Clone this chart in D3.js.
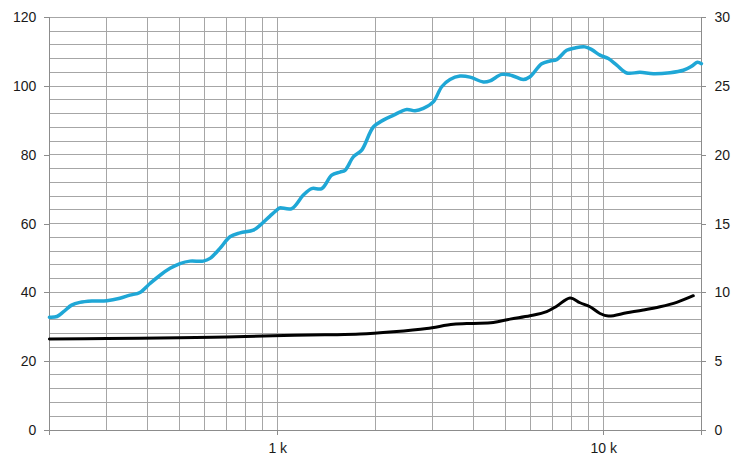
<!DOCTYPE html>
<html><head><meta charset="utf-8">
<script src="https://cdn.jsdelivr.net/npm/d3@7"></script>
<style>
html,body{margin:0;padding:0;background:#fff;}
svg{display:block;font-family:"Liberation Sans",Arial,sans-serif;}
</style></head>
<body><svg id="c" width="746" height="461"></svg>
<script>
// Blue curve (left axis, 0-120)
const blueFreq = [200,211,221,234,248,270,300,329,353,379,407,437,469,503,540,593,622,667,716,769,844,885,950,1007,1019,1108,1202,1275,1369,1469,1558,1614,1711,1816,1971,2114,2268,2495,2646,2806,3011,3195,3387,3635,3901,4286,4493,4880,5238,5686,5961,6474,6864,7195,7724,8192,8790,9216,9772,10364,10998,11804,12964,14244,16024,17603,18676,19428,20000];
const blueVals = [32.8,33,34.4,36.3,37.1,37.5,37.6,38.3,39.2,40,42.6,45,47,48.4,49.1,49.1,49.9,52.8,56.2,57.3,58.1,59.5,62.2,64.3,64.6,64.4,68.3,70.2,70.2,74.1,75,75.5,79.4,81.4,88.1,90.1,91.5,93.2,92.8,93.5,95.4,99.8,101.9,102.9,102.6,101.2,101.5,103.4,103.1,101.9,102.7,106.5,107.3,107.7,110.4,111.1,111.4,110.6,109,108,106.1,103.8,104,103.6,103.9,104.6,105.8,106.9,106.5];
// Black curve (right axis, 0-30)
const blackFreq = [200,300,500,700,970,1400,1794,2268,2874,3468,3994,4598,5177,5961,6706,7195,7907,8487,9106,9772,10364,11804,13268,14930,16800,18890];
const blackVals = [6.62,6.65,6.7,6.76,6.85,6.92,6.97,7.14,7.38,7.68,7.75,7.82,8.06,8.3,8.6,9.0,9.6,9.25,8.96,8.47,8.28,8.52,8.72,8.96,9.28,9.76];
const leftTicks = [0,20,40,60,80,100,120];
const rightTicks = [0,5,10,15,20,25,30];
const xTickVals = [1000,10000];
const xTickLabels = ["1 k","10 k"];
const xGridVals = [200,300,400,500,600,700,800,900,1000,2000,3000,4000,5000,6000,7000,8000,9000,10000,20000];
const yGridVals = d3.range(0,121,4);

const L=49.4,R=701.4,T=17.3,B=430;
const svg=d3.select("#c");
const x=d3.scaleLog().domain([200,20000]).range([L,R]);
const yL=d3.scaleLinear().domain([0,120]).range([B,T]);
const yR=d3.scaleLinear().domain([0,30]).range([B,T]);

const grid=svg.append("g").attr("stroke","#a6a6a6").attr("stroke-width",1).attr("shape-rendering","crispEdges");
grid.selectAll("line.h").data(yGridVals).enter().append("line")
 .attr("x1",L).attr("x2",R).attr("y1",d=>yL(d)).attr("y2",d=>yL(d));
grid.selectAll("line.v").data(xGridVals).enter().append("line")
 .attr("y1",T).attr("y2",B).attr("x1",d=>x(d)).attr("x2",d=>x(d));

const axL=svg.append("g").attr("transform",`translate(${L},0)`)
 .call(d3.axisLeft(yL).tickValues(leftTicks).tickSize(5).tickPadding(8));
const axR=svg.append("g").attr("transform",`translate(${R},0)`)
 .call(d3.axisRight(yR).tickValues(rightTicks).tickSize(5).tickPadding(8));
const axB=svg.append("g").attr("transform",`translate(0,${B})`)
 .call(d3.axisBottom(x).tickValues(xTickVals).tickFormat((d,i)=>xTickLabels[i]).tickSize(5).tickPadding(8));
[axL,axR,axB].forEach(a=>{
  a.select(".domain").attr("stroke","#8c8c8c").attr("shape-rendering","crispEdges");
  a.selectAll(".tick line").attr("stroke","#8c8c8c").attr("shape-rendering","crispEdges");
  a.selectAll("text").attr("font-size",14).attr("fill","#1a1a1a").attr("font-family","'Liberation Sans',Arial,sans-serif");
});

const lineB=d3.line().x(d=>x(d[0])).y(d=>yL(d[1])).curve(d3.curveCatmullRom.alpha(0.5));
const lineK=d3.line().x(d=>x(d[0])).y(d=>yR(d[1])).curve(d3.curveCatmullRom.alpha(0.5));
svg.append("path").datum(blackFreq.map((f,i)=>[f,blackVals[i]]))
 .attr("d",lineK).attr("fill","none").attr("stroke","#000").attr("stroke-width",3).attr("stroke-linejoin","round").attr("stroke-linecap","round");
svg.append("path").datum(blueFreq.map((f,i)=>[f,blueVals[i]]))
 .attr("d",lineB).attr("fill","none").attr("stroke","#1fa7d6").attr("stroke-width",3.5).attr("stroke-linejoin","round").attr("stroke-linecap","round");
</script></body></html>
